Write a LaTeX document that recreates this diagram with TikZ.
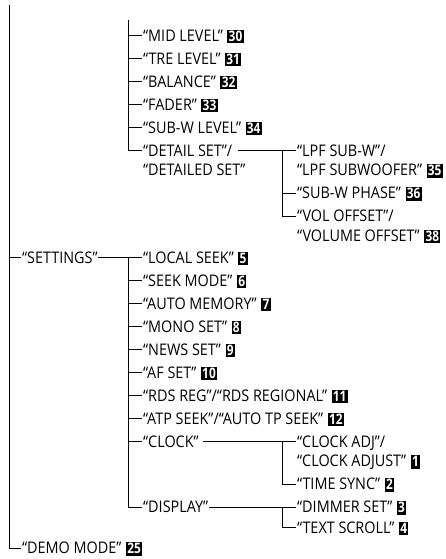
\documentclass[tikz,border=0pt]{standalone}
\usepackage{fontspec}
\setmainfont[FakeStretch=0.9]{Open Sans}
\newfontfamily\badgefamily[FakeStretch=0.82]{Open Sans}
\newcommand\bdg[1]{\kern4.5pt{\setlength\fboxsep{0pt}\colorbox{black}{\kern1.3pt\rule[-2pt]{0pt}{13.5pt}\color{white}\badgefamily\bfseries\fontsize{14.5}{14.5}\selectfont #1\kern1.3pt}}}
\tikzset{
  item/.style={anchor=west, inner sep=0pt, text height=11.4pt, text depth=0pt, font=\fontsize{16}{19}\selectfont},
  conn/.style={line width=1pt, line cap=rect},
}
\begin{document}
\begin{tikzpicture}[x=1pt,y=-1pt]
\useasboundingbox (0,0) rectangle (445,559);
% level 1
\node[item] (settings) at (22,257.5) {“SETTINGS”};
\node[item] (demo) at (22,548) {“DEMO MODE”\bdg{25}};
% level 2 top group
\node[item] (mid) at (143,35.5) {“MID LEVEL”\bdg{30}};
\node[item] (tre) at (143,58.5) {“TRE LEVEL”\bdg{31}};
\node[item] (bal) at (143,81.5) {“BALANCE”\bdg{32}};
\node[item] (fad) at (143,104.5) {“FADER”\bdg{33}};
\node[item] (subw) at (143,127.5) {“SUB-W LEVEL”\bdg{34}};
\node[item] (det1) at (143,150.5) {“DETAIL SET”/};
\node[item] (det2) at (143,170) {“DETAILED SET”};
% level 3 detail
\node[item] (lpf1) at (297,150.5) {“LPF SUB-W”/};
\node[item] (lpf2) at (297,170) {“LPF SUBWOOFER”\bdg{35}};
\node[item] (pha) at (297,193) {“SUB-W PHASE”\bdg{36}};
\node[item] (vol1) at (297,216) {“VOL OFFSET”/};
\node[item] (vol2) at (297,235.5) {“VOLUME OFFSET”\bdg{38}};
% level 2 settings
\node[item] (local) at (143,257.5) {“LOCAL SEEK”\bdg{5}};
\node[item] (seek) at (143,280.5) {“SEEK MODE”\bdg{6}};
\node[item] (auto) at (143,303.5) {“AUTO MEMORY”\bdg{7}};
\node[item] (mono) at (143,326.5) {“MONO SET”\bdg{8}};
\node[item] (news) at (143,349.5) {“NEWS SET”\bdg{9}};
\node[item] (af) at (143,372.5) {“AF SET”\bdg{10}};
\node[item] (rds) at (143,395.5) {“RDS REG”/“RDS REGIONAL”\bdg{11}};
\node[item] (atp) at (143,418.5) {“ATP SEEK”/“AUTO TP SEEK”\bdg{12}};
\node[item] (clock) at (143,441.5) {“CLOCK”};
\node[item] (disp) at (143,507) {“DISPLAY”};
% level 3 clock/display
\node[item] (cadj1) at (297,441.5) {“CLOCK ADJ”/};
\node[item] (cadj2) at (297,461) {“CLOCK ADJUST”\bdg{1}};
\node[item] (tsync) at (297,484) {“TIME SYNC”\bdg{2}};
\node[item] (dim) at (297,507) {“DIMMER SET”\bdg{3}};
\node[item] (tscr) at (297,527.5) {“TEXT SCROLL”\bdg{4}};
% junction coordinates
\coordinate (v1top) at (9,6);
\coordinate (v2top) at (128,21);
\coordinate (sj) at (128,257.5);
\coordinate (dj) at (282,150.5);
\coordinate (cj) at (282,441.5);
\coordinate (pj) at (282,507);
% connectors
\foreach \n in {settings,demo}
  \draw[conn] (v1top) |- ([xshift=-1.5pt]\n.west);
\foreach \n in {mid,tre,bal,fad,subw,det1}
  \draw[conn] (v2top) |- ([xshift=-1.5pt]\n.west);
\draw[conn] ([xshift=1pt]settings.east) -- ([xshift=-1.5pt]local.west);
\foreach \n in {seek,auto,mono,news,af,rds,atp,clock,disp}
  \draw[conn] (sj) |- ([xshift=-1.5pt]\n.west);
\draw[conn] ([xshift=6pt]det1.east) -- ([xshift=-1.5pt]lpf1.west);
\foreach \n in {pha,vol1}
  \draw[conn] (dj) |- ([xshift=-1.5pt]\n.west);
\draw[conn] ([xshift=5pt]clock.east) -- ([xshift=-1.5pt]cadj1.west);
\draw[conn] (cj) |- ([xshift=-1.5pt]tsync.west);
\draw[conn] ([xshift=1pt]disp.east) -- ([xshift=-1.5pt]dim.west);
\draw[conn] (pj) |- ([xshift=-1.5pt]tscr.west);
\end{tikzpicture}
\end{document}
